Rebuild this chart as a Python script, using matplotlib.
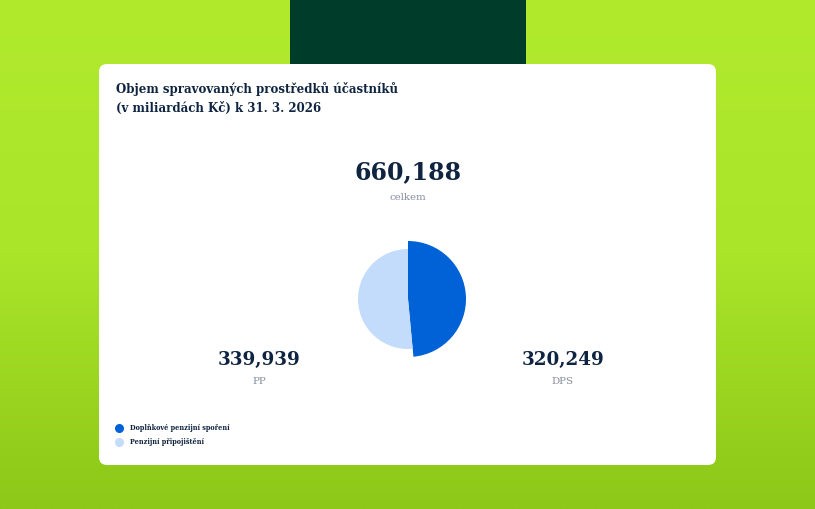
import numpy as np
import matplotlib
matplotlib.use("Agg")
import matplotlib.pyplot as plt
from matplotlib.patches import FancyBboxPatch, Rectangle
from matplotlib.colors import LinearSegmentedColormap

# ---- data ----
title_lines = ["Objem spravovaných prostředků účastníků", "(v miliardách Kč) k 31. 3. 2026"]
total_value = "660,188"
total_label = "celkem"
categories = ["DPS", "PP"]
legend_labels = ["Doplňkové penzijní spoření", "Penzijní připojištění"]
values = [320.249, 339.939]
value_texts = ["320,249", "339,939"]
colors = ["#0062d6", "#c4dcfb"]

W, H = 815, 509
fig = plt.figure(figsize=(W / 100, H / 100), dpi=100)
ax = fig.add_axes([0, 0, 1, 1])
ax.set_xlim(0, W)
ax.set_ylim(H, 0)
ax.axis("off")

# background gradient
cmap = LinearSegmentedColormap.from_list("bg", ["#b1ea2d", "#aae52a", "#8dc718"])
grad = np.linspace(0, 1, 256).reshape(-1, 1)
ax.imshow(grad, cmap=cmap, extent=[0, W, H, 0], aspect="auto", zorder=0)

# dark green block
ax.add_patch(Rectangle((290, 0), 236, 70, facecolor="#003c2a", edgecolor="none", zorder=1))

# card
ax.add_patch(FancyBboxPatch((99, 64), 617, 401, boxstyle="round,pad=0,rounding_size=8",
                            facecolor="white", edgecolor="none", zorder=2))

navy = "#0f2440"
grey = "#858f9c"
serif = ["DejaVu Serif"]

ax.text(116, 89, title_lines[0], fontsize=8.5, fontweight="bold", color=navy,
        family=serif, va="center", ha="left", zorder=3)
ax.text(116, 108, title_lines[1], fontsize=8.5, fontweight="bold", color=navy,
        family=serif, va="center", ha="left", zorder=3)

ax.text(408, 172, total_value, fontsize=17, fontweight="bold", color=navy,
        family=serif, va="center", ha="center", zorder=3)
ax.text(408, 197, total_label, fontsize=7.4, color=grey, family=serif,
        va="center", ha="center", zorder=3)

# value labels
label_pos = {"PP": 259, "DPS": 563}
for cat, vt in zip(categories, value_texts):
    x = label_pos[cat]
    ax.text(x, 360, vt, fontsize=13.2, fontweight="bold", color=navy, family=serif,
            va="center", ha="center", zorder=3)
    ax.text(x, 381, cat, fontsize=7.4, color=grey, family=serif,
            va="center", ha="center", zorder=3)

# legend
for i, (lab, c) in enumerate(zip(legend_labels, colors)):
    y = 428 + i * 14
    ax.plot([119], [y], marker="o", markersize=5.5, color=c, zorder=3)
    ax.text(130, y, lab, fontsize=4.7, fontweight="bold", color=navy, family=serif,
            va="center", ha="left", zorder=3)

# pie
cx, cy, half = 408, 299, 70
pax = fig.add_axes([(cx - half) / W, (H - cy - half) / H, 2 * half / W, 2 * half / H])
pax.set_xlim(-1.4, 1.4)
pax.set_ylim(-1.4, 1.4)
pax.set_aspect("equal")
pax.axis("off")
wedges, _ = pax.pie(values, colors=colors, startangle=90, counterclock=False, radius=1.0,
                    wedgeprops=dict(linewidth=0))
wedges[0].set_radius(1.16)
pax.set_xlim(-1.4, 1.4)
pax.set_ylim(-1.4, 1.4)

fig.savefig("out.png", dpi=100)
